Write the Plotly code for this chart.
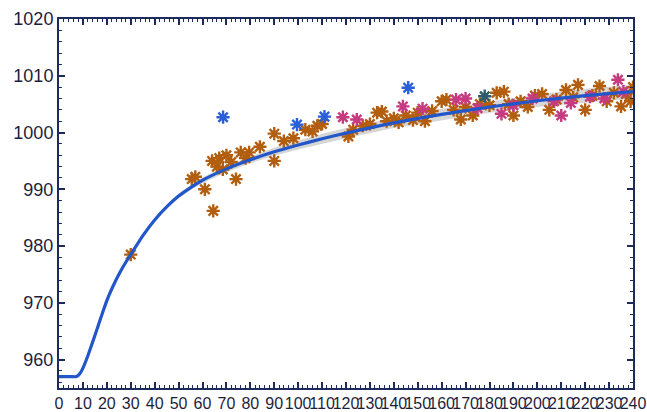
import plotly.graph_objects as go

# fitted curve
curve_x = [0, 5, 7, 8, 9, 10, 12, 14, 16, 18, 20, 22, 25, 28, 30, 35, 40, 45, 50, 55, 60, 70,
           80, 90, 100, 110, 120, 140, 160, 180, 200, 220, 240]
curve_y = [957.0, 957.0, 957.0, 957.2, 957.7, 958.5, 960.6, 963.0, 965.5, 968.0, 970.4, 972.4,
           975.0, 977.2, 978.5, 981.8, 984.6, 986.9, 988.8, 990.3, 991.6, 993.6, 995.2, 996.6,
           997.8, 998.9, 999.9, 1001.7, 1003.2, 1004.5, 1005.6, 1006.5, 1007.2]
band_lo = [957.0, 957.0, 957.0, 957.2, 957.7, 958.5, 960.6, 963.0, 965.5, 968.0, 970.4, 972.4,
           975.0, 977.1, 978.4, 981.6, 984.4, 986.6, 988.4, 989.9, 991.1, 993.0, 994.6, 995.9,
           997.0, 998.0, 999.0, 1000.8, 1002.2, 1003.5, 1004.5, 1005.3, 1006.0]
band_hi = [957.0, 957.0, 957.0, 957.2, 957.7, 958.5, 960.6, 963.0, 965.5, 968.0, 970.4, 972.4,
           975.0, 977.3, 978.6, 982.0, 984.8, 987.2, 989.2, 990.7, 992.1, 994.2, 995.8, 997.3,
           998.6, 999.8, 1000.8, 1002.6, 1004.2, 1005.5, 1006.7, 1007.7, 1008.4]

orange_x = [30, 55.5, 57, 61, 64.5, 64, 66, 67, 68.5, 70, 72, 74, 76, 78, 79.5, 84, 90, 90, 94,
            98, 103, 106, 108, 110,
            121, 123, 127, 130, 133, 135, 137, 140, 142, 145, 148, 150, 153, 156, 160, 162, 165,
            168, 170, 173, 176, 180, 183, 186, 188, 190, 193, 196, 199, 202, 205, 208, 212, 215,
            217, 220, 223, 226, 229, 232, 235, 237, 239, 240]
orange_y = [978.5, 991.8, 992.2, 990.0, 986.2, 995.0, 994.0, 995.5, 993.5, 996.0, 994.8, 991.8,
            996.5, 995.5, 996.5, 997.5, 999.8, 995.0, 998.5, 999.0, 1000.5, 1000.2, 1001.2, 1001.5,
            999.3, 1000.5, 1001.2, 1001.5, 1003.5, 1003.7, 1002.0, 1002.5, 1001.8, 1003.0, 1002.2,
            1003.5, 1002.0, 1003.8, 1005.5, 1005.8, 1004.0, 1002.3, 1004.5, 1003.0, 1005.0, 1004.8,
            1007.0, 1007.2, 1005.0, 1003.0, 1005.5, 1004.5, 1006.5, 1006.8, 1004.0, 1005.8, 1007.5,
            1006.2, 1008.4, 1004.0, 1006.5, 1008.2, 1005.5, 1007.0, 1004.6, 1006.8, 1005.5, 1008.0]

magenta_x = [118.7, 124.5, 143.8, 152, 166, 170, 175, 185, 190, 198, 207, 210, 214, 222, 228,
             233.7, 236]
magenta_y = [1002.7, 1002.3, 1004.6, 1004.2, 1005.8, 1006.0, 1004.3, 1003.3, 1004.8, 1006.0,
             1005.5, 1003.0, 1005.2, 1006.3, 1006.0, 1009.3, 1007.2]

blue_x = [68.6, 99.5, 111, 146]
blue_y = [1002.7, 1001.4, 1002.8, 1007.9]

teal_x = [178]
teal_y = [1006.4]

fig = go.Figure()

fig.add_trace(go.Scatter(x=curve_x, y=band_hi, mode="lines", line=dict(width=0),
                         showlegend=False, hoverinfo="skip"))
fig.add_trace(go.Scatter(x=curve_x, y=band_lo, mode="lines", line=dict(width=0),
                         fill="tonexty", fillcolor="rgba(200,200,200,0.75)",
                         showlegend=False, hoverinfo="skip"))


def stars(x, y, color):
    return go.Scatter(x=x, y=y, mode="markers", showlegend=False,
                      marker=dict(symbol="asterisk-open", size=11, color=color,
                                  line=dict(color=color, width=2.4)))


fig.add_trace(stars(orange_x, orange_y, "#b25e0e"))
fig.add_trace(stars(magenta_x, magenta_y, "#c63a80"))
fig.add_trace(stars(blue_x, blue_y, "#2a5fd6"))
fig.add_trace(stars(teal_x, teal_y, "#2f5a6a"))

fig.add_trace(go.Scatter(x=curve_x, y=curve_y, mode="lines", showlegend=False,
                         line=dict(color="#2356c8", width=3.2, shape="spline", smoothing=0.6)))

axis_color = "#1c2a5c"
fig.update_layout(
    width=647, height=412,
    margin=dict(l=59, r=14, t=19, b=24),
    paper_bgcolor="white", plot_bgcolor="white",
    font=dict(family="Liberation Sans, Arial", color="#1e1e3c"),
)
fig.update_xaxes(range=[0, 240], dtick=10, tick0=0, showgrid=False, zeroline=False,
                 showline=True, linecolor=axis_color, linewidth=2, mirror="ticks",
                 ticks="inside", ticklen=6, tickwidth=1.5, tickcolor=axis_color,
                 tickfont=dict(size=16), tickangle=0, automargin=False,
                 minor=dict(dtick=2, ticks="inside", ticklen=3, tickcolor=axis_color, tickwidth=1))
fig.update_yaxes(range=[955, 1020], dtick=10, tick0=960, showgrid=False, zeroline=False,
                 showline=True, linecolor=axis_color, linewidth=2, mirror="ticks",
                 ticks="inside", ticklen=6, tickwidth=1.5, tickcolor=axis_color,
                 tickfont=dict(size=18), automargin=False,
                 minor=dict(dtick=2, ticks="inside", ticklen=3, tickcolor=axis_color, tickwidth=1))

fig.write_html("out.html", config={"displayModeBar": False},
               post_script="document.body.style.margin='0';document.body.style.overflow='hidden';")
